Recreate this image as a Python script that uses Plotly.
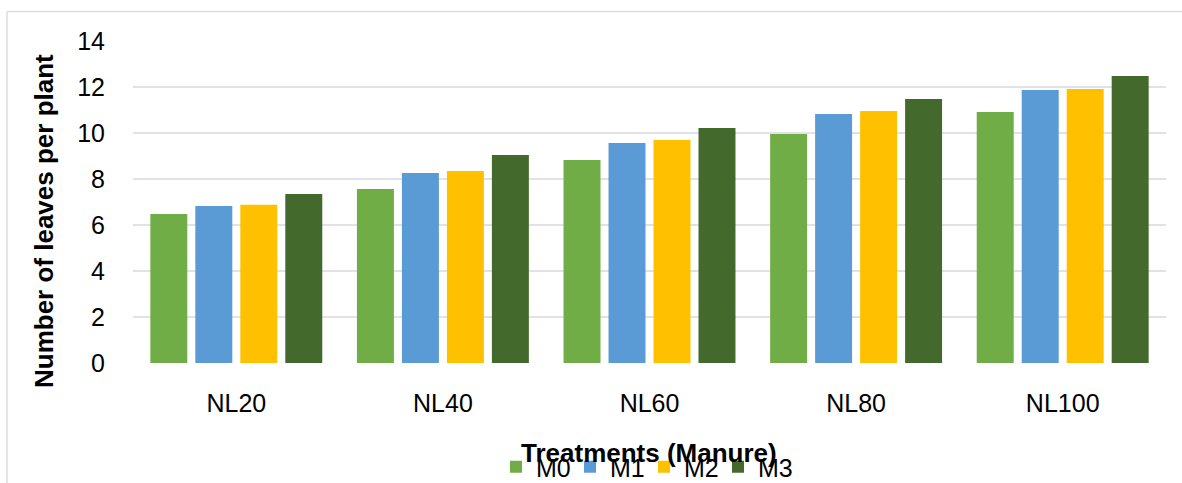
import plotly.graph_objects as go

categories = ["NL20", "NL40", "NL60", "NL80", "NL100"]
series_names = ["M0", "M1", "M2", "M3"]
m0 = [6.48, 7.57, 8.83, 9.96, 10.91]
m1 = [6.83, 8.26, 9.57, 10.83, 11.87]
m2 = [6.88, 8.35, 9.70, 10.96, 11.91]
m3 = [7.35, 9.04, 10.22, 11.48, 12.48]
y_ticks = [0, 2, 4, 6, 8, 10, 12, 14]

series_values = [m0, m1, m2, m3]
colors = ["#70AD47", "#5B9BD5", "#FFC000", "#44692C"]

W, H = 1182, 483
plot_left, plot_right, plot_top, plot_bottom = 133, 1166, 41, 363
L = plot_left
R = W - plot_right
T = plot_top
B = H - plot_bottom
pw = W - L - R
ph = H - T - B


def px_x(x):
    return (x - plot_left) / pw


def px_y(y):
    return (plot_bottom - y) / ph


fig = go.Figure()
for name, vals, col in zip(series_names, series_values, colors):
    fig.add_trace(go.Bar(x=categories, y=vals, name=name,
                         marker=dict(color=col, line=dict(width=0))))

font = "Arial, Liberation Sans, sans-serif"
border = dict(color="#D9DDE3", width=1.5)

fig.update_layout(
    width=W, height=H,
    margin=dict(l=L, r=R, t=T, b=B, autoexpand=False),
    paper_bgcolor="white", plot_bgcolor="white",
    barmode="group", bargap=0.129, bargroupgap=0.178,
    font=dict(family=font, color="#000000", size=25),
    showlegend=True,
    legend=dict(orientation="h", x=px_x(644), xanchor="center",
                y=px_y(467), yanchor="middle",
                font=dict(size=25, color="#000000"),
                entrywidth=29, entrywidthmode="pixels",
                itemwidth=30, traceorder="normal",
                bgcolor="rgba(0,0,0,0)"),
    xaxis=dict(showgrid=False, showline=False, zeroline=False,
               ticks="outside", ticklen=18, tickcolor="rgba(0,0,0,0)",
               tickfont=dict(size=25, color="#000000")),
    yaxis=dict(range=[0, 14], tickvals=y_ticks, showgrid=True,
               gridcolor="#DFE3E8", gridwidth=1.5, zeroline=False,
               showline=False, ticks="outside", ticklen=22,
               tickcolor="rgba(0,0,0,0)",
               tickfont=dict(size=25, color="#000000")),
    shapes=[
        dict(type="line", xref="paper", yref="paper",
             x0=px_x(7), x1=px_x(7), y0=px_y(500), y1=px_y(11.5),
             line=border, layer="below"),
        dict(type="line", xref="paper", yref="paper",
             x0=px_x(7), x1=px_x(1300), y0=px_y(11.5), y1=px_y(11.5),
             line=border, layer="below"),
    ],
    annotations=[
        dict(text="<b>Number of leaves per plant</b>", textangle=-90,
             xref="paper", yref="paper",
             x=px_x(44), y=px_y(221),
             xanchor="center", yanchor="middle", showarrow=False,
             font=dict(size=26, color="#000000", family=font)),
        dict(text="<b>Treatments (Manure)</b>",
             xref="paper", yref="paper",
             x=px_x(649), y=px_y(453),
             xanchor="center", yanchor="middle", showarrow=False,
             font=dict(size=26, color="#000000", family=font)),
    ],
)

fig.write_html(
    "out.html",
    config={"displayModeBar": False},
    post_script="document.body.style.margin='0';"
                "document.body.style.overflow='hidden';"
                "document.documentElement.style.overflow='hidden';",
)
